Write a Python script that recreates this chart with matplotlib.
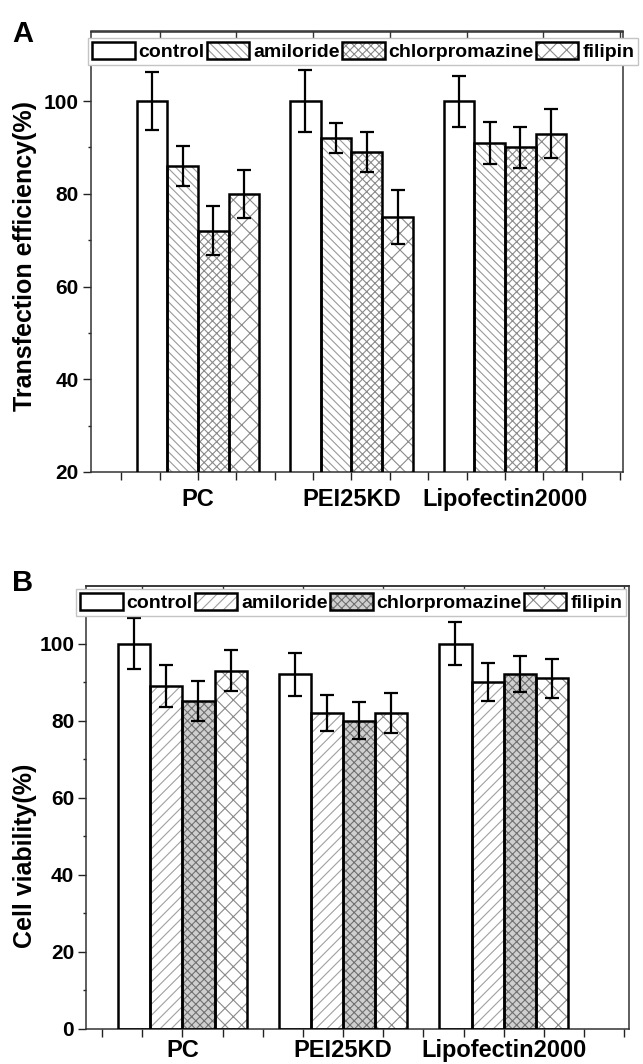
import matplotlib
matplotlib.use("Agg")
import matplotlib.pyplot as plt
import matplotlib.transforms as mtransforms
from matplotlib.patches import Patch
from matplotlib.ticker import MultipleLocator
import numpy as np

plt.rcParams['font.family'] = ['Liberation Sans', 'DejaVu Sans']
plt.rcParams['font.weight'] = 'bold'
plt.rcParams['hatch.linewidth'] = 0.8

groups = ['PC', 'PEI25KD', 'Lipofectin2000']
series = ['control', 'amiloride', 'chlorpromazine', 'filipin']

# panel A: transfection efficiency (%)
transfection = [
    [100, 100, 100],   # control
    [86, 92, 91],      # amiloride
    [72, 89, 90],      # chlorpromazine
    [80, 75, 93],      # filipin
]
transfection_err = [
    [6.2, 6.7, 5.5],
    [4.4, 3.2, 4.5],
    [5.3, 4.4, 4.5],
    [5.2, 5.8, 5.3],
]

# panel B: cell viability (%)
viability = [
    [100, 92, 100],
    [89, 82, 90],
    [85, 80, 92],
    [93, 82, 91],
]
viability_err = [
    [6.5, 5.5, 5.7],
    [5.4, 4.7, 5.0],
    [5.2, 4.8, 4.7],
    [5.3, 5.2, 5.1],
]

W, H = 643, 1064
fig = plt.figure(figsize=(W / 100, H / 100), dpi=100)


def px_rect(l, t, r, b):
    return [l / W, 1 - b / H, (r - l) / W, (b - t) / H]


def draw_panel(ax, vals, errs, hatches, faces, hatch_cols, ylim, xlim, ylabel,
               label_xy, leg_anchor, xlab_pad):
    x = np.arange(1, len(groups) + 1)
    width = 0.2
    offsets = [-0.3, -0.1, 0.1, 0.3]
    handles = []
    for i, name in enumerate(series):
        ax.bar(x + offsets[i], vals[i], width, facecolor=faces[i],
               edgecolor=hatch_cols[i], hatch=hatches[i], linewidth=0, zorder=2)
        ax.bar(x + offsets[i], vals[i], width, fill=False,
               edgecolor='black', linewidth=1.8, zorder=3)
        ax.errorbar(x + offsets[i], vals[i], yerr=errs[i], fmt='none',
                    ecolor='black', elinewidth=1.6, capsize=5, capthick=1.6,
                    zorder=4)
        h1 = Patch(facecolor=faces[i], edgecolor=hatch_cols[i], hatch=hatches[i], linewidth=0)
        h2 = Patch(facecolor='none', edgecolor='black', linewidth=1.8)
        handles.append((h1, h2))

    ax.set_xlim(*xlim)
    ax.set_ylim(*ylim)
    ax.set_xticks(x)
    ax.set_xticklabels(groups, fontsize=17, fontweight='bold')
    shifts = [3, 5, 20]
    for lab, dx in zip(ax.get_xticklabels(), shifts):
        lab.set_transform(lab.get_transform() +
                          mtransforms.ScaledTranslation(dx / 100, 0, fig.dpi_scale_trans))
    ax.xaxis.set_minor_locator(MultipleLocator(0.25))
    ax.yaxis.set_major_locator(MultipleLocator(20))
    ax.yaxis.set_minor_locator(MultipleLocator(10))
    ax.tick_params(axis='x', which='both', direction='out', length=5.5, width=1.0,
                   pad=xlab_pad, colors='#222222')
    ax.tick_params(axis='y', which='major', direction='out', length=5.5, width=1.0,
                   labelsize=15, pad=3, colors='#222222')
    ax.tick_params(axis='y', which='minor', direction='out', length=2.5, width=1.0,
                   colors='#222222')
    for lab in ax.get_yticklabels():
        lab.set_fontweight('bold')
        lab.set_color('black')
    for lab in ax.get_xticklabels():
        lab.set_color('black')
    for s in ax.spines.values():
        s.set_linewidth(1.1)
        s.set_color('#333333')

    top = ax.secondary_xaxis('top')
    top.set_xticks(np.arange(0.75, xlim[1], 0.5))
    top.tick_params(direction='in', length=5, width=1.0, labeltop=False, colors='#333333')
    top.spines['top'].set_linewidth(1.1)
    top.spines['top'].set_color('#333333')

    ax.set_ylabel(ylabel, fontsize=18, fontweight='bold')
    ax.yaxis.set_label_coords(*label_xy)

    leg = ax.legend(handles, series, loc='upper left', bbox_to_anchor=leg_anchor,
                    bbox_transform=fig.transFigure, ncol=4,
                    handlelength=2.2, handleheight=0.95, handletextpad=0.2,
                    columnspacing=0.1, borderpad=0.2, borderaxespad=0,
                    fancybox=False, framealpha=1, edgecolor='#c4c4c4',
                    prop={'weight': 'bold', 'size': 14})
    leg.get_frame().set_linewidth(1.0)
    leg.set_zorder(10)


axA = fig.add_axes(px_rect(90.7, 31.5, 623, 472))
draw_panel(axA, transfection, transfection_err,
           ['', '\\\\\\\\', 'xxxx', 'xx'],
           ['white', 'white', 'white', 'white'],
           ['black', '#9a9a9a', '#8a8a8a', '#8a8a8a'],
           (20, 115), (0.3, 3.77), 'Transfection efficiency(%)', (-0.1, 0.49),
           (88 / W, 1 - 38 / H), 6)

axB = fig.add_axes(px_rect(86, 585.7, 629, 1029))
draw_panel(axB, viability, viability_err,
           ['', '///', 'xxxx', 'xx'],
           ['white', 'white', '#cfcfcf', 'white'],
           ['black', '#a0a0a0', '#707070', '#8a8a8a'],
           (0, 115), (0.4, 3.78), 'Cell viability(%)', (-0.09, 0.39),
           (76 / W, 1 - 589 / H), 2)

fig.text(12 / W, 1 - 42 / H, 'A', fontsize=21, fontweight='bold')
fig.text(12 / W, 1 - 591 / H, 'B', fontsize=21, fontweight='bold')

fig.savefig('out.png', dpi=100)
